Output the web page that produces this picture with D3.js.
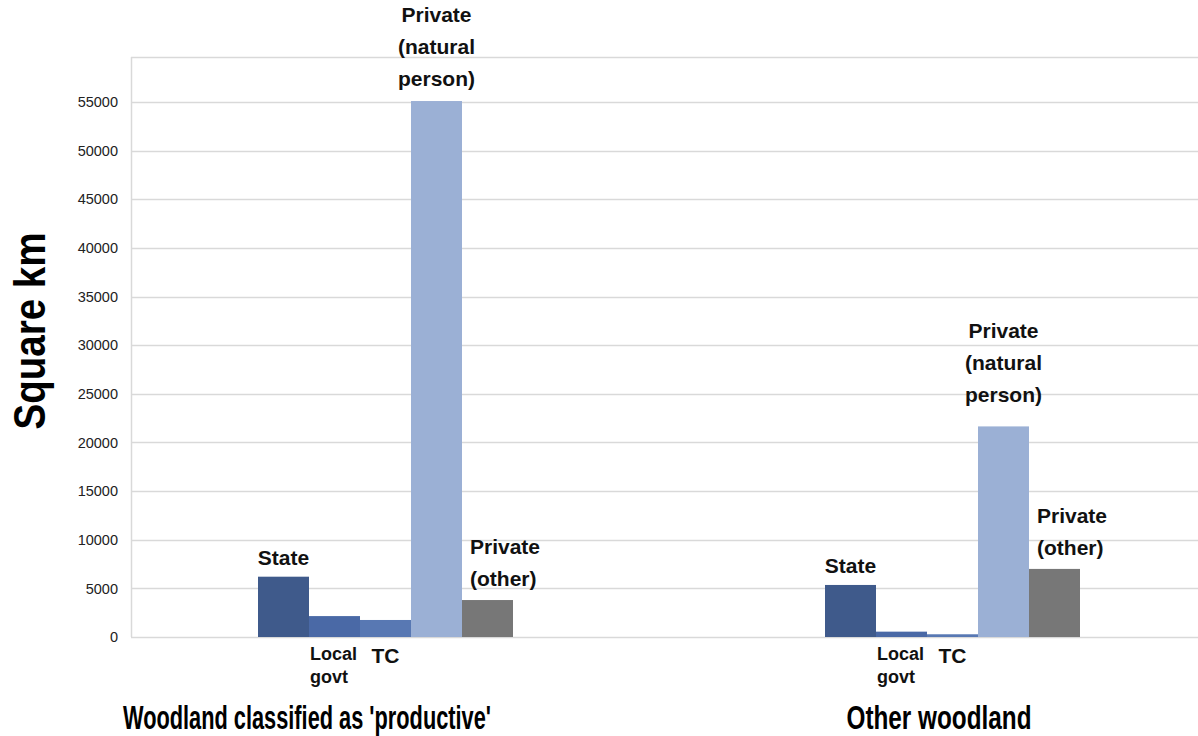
<!DOCTYPE html>
<html>
<head>
<meta charset="utf-8">
<script src="https://cdn.jsdelivr.net/npm/d3@7"></script>
<style>
  html, body { margin: 0; padding: 0; background: #ffffff; }
  svg { display: block; }
</style>
</head>
<body>
<svg id="chart" width="1198" height="736"></svg>
<script>
// ---- data ----
const groups = ["Woodland classified as 'productive'", "Other woodland"];
const categories = ["State", "Local govt", "TC", "Private (natural person)", "Private (other)"];
const productiveValues = [6200, 2150, 1750, 55100, 3800];
const otherValues = [5350, 550, 280, 21650, 7000];
const seriesValues = [productiveValues, otherValues];
const categoryColors = ["#3f5a8b", "#4a69a6", "#5878b3", "#9bb0d5", "#777777"];
const yTickValues = [0, 5000, 10000, 15000, 20000, 25000, 30000, 35000, 40000, 45000, 50000, 55000];
const yAxisTitle = "Square km";

// label text lines per category
const labelLines = [["State"], ["Local", "govt"], ["TC"], ["Private", "(natural", "person)"], ["Private", "(other)"]];
const labelBelow = [false, true, true, false, false];

// ---- layout ----
const W = 1198, H = 736;
const plotLeft = 131, plotRight = 1198, plotTop = 57, plotBottom = 637;
const font = "'Liberation Sans', Arial, sans-serif";

const svg = d3.select("#chart");

const x0 = d3.scaleBand().domain(groups).range([102, 1236]).padding(0);
const innerWidth = 255;
const x1 = d3.scaleBand().domain(categories).range([0, innerWidth]).padding(0);
const y = d3.scaleLinear().domain([0, 55000]).range([plotBottom, 102]);

// gridlines
const grid = svg.append("g").attr("class", "grid");
grid.selectAll("line.g").data(yTickValues).enter().append("line")
  .attr("x1", plotLeft).attr("x2", plotRight)
  .attr("y1", d => Math.round(y(d)) + 0.5).attr("y2", d => Math.round(y(d)) + 0.5)
  .attr("stroke", "#d9d9d9").attr("stroke-width", 1.5);
grid.append("line").attr("x1", plotLeft).attr("x2", plotRight)
  .attr("y1", plotTop + 0.5).attr("y2", plotTop + 0.5)
  .attr("stroke", "#d9d9d9").attr("stroke-width", 1.5);
grid.append("line").attr("x1", plotLeft + 0.5).attr("x2", plotLeft + 0.5)
  .attr("y1", plotTop).attr("y2", plotBottom)
  .attr("stroke", "#d9d9d9").attr("stroke-width", 1.5);

// y axis labels
const yAxis = d3.axisLeft(y).tickValues(yTickValues).tickSize(0).tickPadding(0).tickFormat(d3.format("d"));
const yg = svg.append("g").attr("transform", `translate(${plotLeft - 13},0)`).call(yAxis);
yg.select(".domain").remove();
yg.selectAll("text")
  .attr("font-family", font)
  .attr("font-size", 14.5).attr("fill", "#222");

// y axis title
svg.append("text")
  .attr("transform", `translate(45,331) rotate(-90)`)
  .attr("text-anchor", "middle")
  .attr("font-family", font)
  .attr("font-weight", "bold").attr("font-size", 45).attr("fill", "#000")
  .attr("textLength", 197).attr("lengthAdjust", "spacingAndGlyphs")
  .text(yAxisTitle);

// bars
const gGroups = svg.selectAll("g.grp").data(groups).enter().append("g")
  .attr("class", "grp")
  .attr("transform", d => `translate(${x0(d) + (x0.bandwidth() - innerWidth) / 2},0)`);

gGroups.each(function(gname, gi) {
  const g = d3.select(this);
  const vals = seriesValues[gi];
  const data = categories.map((c, i) => ({ c, i, v: vals[i] }));
  g.selectAll("rect").data(data).enter().append("rect")
    .attr("x", d => x1(d.c))
    .attr("width", x1.bandwidth())
    .attr("y", d => y(d.v))
    .attr("height", d => y(0) - y(d.v))
    .attr("fill", d => categoryColors[d.i]);

  // labels
  data.forEach(d => {
    const lines = labelLines[d.i];
    const below = labelBelow[d.i];
    const isLocal = d.c === "Local govt";
    const isOther = d.c === "Private (other)";
    const isNatural = d.c === "Private (natural person)";
    const fs = isLocal ? 18 : 21;
    const lh = isLocal ? 23 : 32;
    let cx = x1(d.c) + x1.bandwidth() / 2;
    let anchor = "middle";
    if (isOther) { cx = x1(d.c) + 8; anchor = "start"; }
    if (isLocal) { cx = x1(d.c) + 1; anchor = "start"; }
    const gap = isNatural ? 24 : (isOther ? 14 : 12);
    let topBaseline = y(d.v) - gap - (lines.length - 1) * lh;
    topBaseline = Math.max(topBaseline, 22);
    const t = g.append("text")
      .attr("font-family", font)
      .attr("font-weight", "bold").attr("font-size", fs).attr("fill", "#111")
      .attr("text-anchor", anchor);
    lines.forEach((ln, k) => {
      const yy = below ? y(0) + (isLocal ? 23 : 26) + k * lh : topBaseline + k * lh;
      t.append("tspan").attr("x", cx).attr("y", yy).text(ln);
    });
  });
});

// category (group) labels
const catWidths = [368, 185];
svg.selectAll("text.cat").data(groups).enter().append("text")
  .attr("class", "cat")
  .attr("x", (d, i) => i === 0 ? 307 : 939)
  .attr("y", 729)
  .attr("text-anchor", "middle")
  .attr("font-family", font)
  .attr("font-weight", "bold").attr("font-size", 33).attr("fill", "#000")
  .attr("textLength", (d, i) => catWidths[i]).attr("lengthAdjust", "spacingAndGlyphs")
  .text(d => d);
</script>
</body>
</html>
